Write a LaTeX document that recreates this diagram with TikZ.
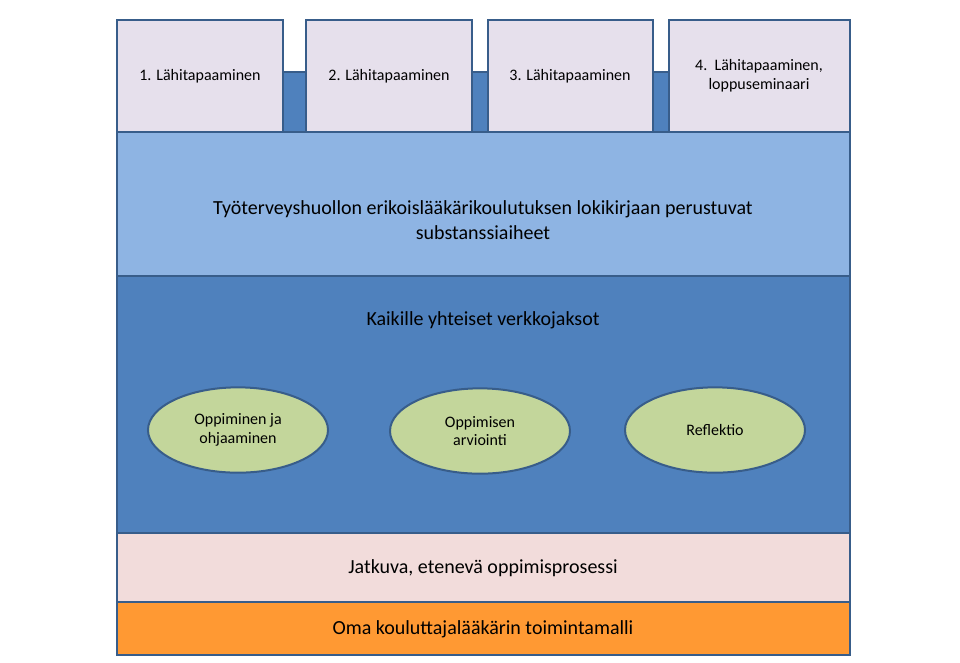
\documentclass[tikz,border=0pt]{standalone}
\usepackage{fontspec}
\setmainfont{Carlito}
\usetikzlibrary{positioning, shapes.geometric}
\definecolor{lineblue}{HTML}{385D8A}
\definecolor{lavender}{HTML}{E6E0EC}
\definecolor{lightband}{HTML}{8EB4E3}
\definecolor{darkband}{HTML}{4F81BD}
\definecolor{pinkband}{HTML}{F2DCDB}
\definecolor{orangeband}{HTML}{FF9933}
\definecolor{oval}{HTML}{C3D69B}
\tikzset{
  band/.style = {draw=lineblue, line width=1.5pt},
  meeting/.style = {band, fill=lavender},
  meeting_font/.style = {font=\fontsize{12}{14}\selectfont, align=center},
  topic/.style = {draw=lineblue, line width=1.5pt, fill=oval, ellipse, inner sep=0pt, minimum width=135pt, minimum height=64pt, align=center, font=\fontsize{12}{14}\selectfont},
  big_font/.style = {font=\fontsize{15}{19}\selectfont, align=center}
}
\begin{document}
\begin{tikzpicture}[x=0.75pt, y=-0.75pt]
  \useasboundingbox (0,0) rectangle (960,662);

  % Bands
  \draw[band, fill=darkband] (117,72) rectangle (850,132);
  \draw[band, fill=lightband] (117,132) rectangle (850,276);
  \draw[band, fill=darkband] (117,276) rectangle (850,533);
  \draw[band, fill=pinkband] (117,533) rectangle (850,602);
  \draw[band, fill=orangeband] (117,602) rectangle (850,655);

  % Meetings
  \draw[meeting] (117,20) rectangle (283,132);
  \draw[meeting] (306,20) rectangle (472,132);
  \draw[meeting] (488,20) rectangle (653,132);
  \draw[meeting] (669,20) rectangle (850,132);
  \node[meeting_font] (m1) at (200,76) {1. Lähitapaaminen};
  \node[meeting_font] (m2) at (389,76) {2. Lähitapaaminen};
  \node[meeting_font] (m3) at (570,76) {3. Lähitapaaminen};
  \node[meeting_font] (m4) at (759,76) {4.\ \ Lähitapaaminen,\\loppuseminaari};

  % Texts
  \node[big_font] (subst) at (483,220) {Työterveyshuollon erikoislääkärikoulutuksen lokikirjaan perustuvat\\substanssiaiheet};
  \node[big_font] (verkko) at (483,320) {Kaikille yhteiset verkkojaksot};
  \node[big_font] (jatkuva) at (483,568) {Jatkuva, etenevä oppimisprosessi};
  \node[big_font] (oma) at (483,629) {Oma kouluttajalääkärin toimintamalli};

  % Ovals
  \node[topic] (opp) at (238,430) {Oppiminen ja\\ohjaaminen};
  \node[topic] (arv) at (480,431) {Oppimisen\\arviointi};
  \node[topic] (refl) at (715,430) {Reflektio};
\end{tikzpicture}
\end{document}
